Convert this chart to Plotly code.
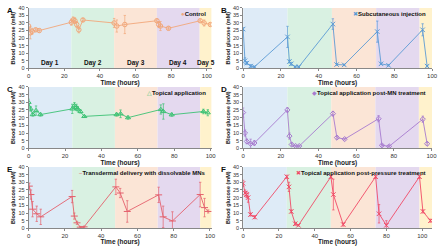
import plotly.graph_objects as go

# ---------------- data ----------------
labels = ["Control", "Subcutaneous injection", "Topical application",
          "Topical application post-MN treatment",
          "Transdermal delivery with dissolvable MNs",
          "Topical application post-pressure treatment"]
panel_letters = ["A", "B", "C", "D", "E", "F"]
day_labels = ["Day 1", "Day 2", "Day 3", "Day 4", "Day 5"]

A_t = [0, 1, 2, 4, 6, 24, 25, 26, 27, 28.2, 30.5, 48, 49.5, 54, 72, 73, 74, 78.5, 96.3, 98.5, 102]
A_y = [28, 23.5, 24.5, 25.5, 25, 30.5, 32, 31.5, 29, 25.5, 32, 30, 28, 29, 31.5, 29, 28, 26.5, 31.5, 30, 29]
A_e = [3, 4, 2, 1, 1, 2, 2, 2, 2, 2, 1, 3, 4, 6, 1, 2, 3, 1, 1, 2, 1]

B_t = [0, 1, 2, 4, 6, 23.5, 24.5, 25.5, 27.5, 29.5, 47.5, 49.5, 53.5, 71, 73, 77, 95, 97.4]
B_y = [26, 5, 3.5, 1.5, 1, 20.8, 4.5, 3, 1, 1, 29.3, 2.5, 2.3, 24.3, 3, 2, 25.5, 1.5]
B_e = [1, 2, 1, 1, 0.5, 7, 1, 1, 0.5, 0.5, 3.5, 0.5, 0.5, 7, 0.5, 0.5, 4, 0.5]

C_t = [0, 1.1, 2.3, 4.1, 6.5, 24, 25.2, 26.3, 27, 28.5, 30.6, 48.3, 50.5, 54.6, 72.6, 74, 78.6, 96, 98.4]
C_y = [30, 25.7, 22, 24.6, 22, 25.7, 27.8, 26.7, 25.7, 24, 20.8, 22, 22.5, 20, 25.3, 24, 21.9, 24, 23.2]
C_e = [2, 1.5, 1, 3, 1, 3, 2, 2, 1.5, 1, 0.5, 1, 2.5, 1, 3, 5, 1, 1.5, 2]

D_t = [0, 1, 2, 4, 6, 23.5, 24.6, 25.8, 27.9, 29.8, 47.7, 49.8, 53.9, 71.9, 73.7, 77.5, 95.4, 97.7]
D_y = [23.3, 10, 4.5, 3, 3.5, 25, 8, 2.5, 1.5, 1.5, 22.6, 7, 6, 19.3, 2, 1.3, 19, 3]
D_e = [3, 2, 1.5, 3, 1.5, 1.5, 2, 1, 0.5, 0.5, 1.5, 1, 0.5, 2, 0.5, 0.5, 2, 1]

E_t = [0.4, 1.3, 2.2, 4.5, 6.7, 24, 25.2, 26.7, 28.5, 30.6, 48.1, 50.5, 54.4, 71.7, 74.2, 79.3, 94.6, 97, 99]
E_y = [27.5, 22, 12.5, 9.5, 7.5, 20.7, 8, 3.6, 0.8, 1, 27, 23, 11, 21.8, 7.5, 4.8, 22, 13.5, 11]
E_e = [2, 3, 5, 5, 5, 4, 2, 1, 0.5, 0.5, 5, 3, 7, 5, 7, 6, 8, 6, 1]

F_t = [0, 1.1, 1.9, 2.8, 4.1, 6.5, 24.4, 25.6, 26.9, 29.1, 30.9, 49, 50.4, 55.9, 74, 75.9, 80, 98.5, 100.4, 104.6]
F_y = [29.3, 23, 22, 20, 9, 7.3, 33.6, 27, 11, 3, 2, 33.6, 22, 2.5, 33.6, 9.5, 2, 33.6, 11, 5]
F_e = [2, 2, 2, 3, 1, 1, 1, 3, 1, 1, 0.5, 1, 10, 1, 1, 6, 3, 1, 1, 1]

# day boundaries (hours) as drawn in each panel, last value = axis end
day_edges = [
    [0, 24, 48, 72, 96, 102.7],
    [0, 23.5, 47, 70.4, 93.4, 100],
    [0, 24, 47.4, 70.8, 94.2, 100.5],
    [0, 23.5, 46.8, 70.2, 93.3, 100.3],
    [0, 24, 47.7, 71.2, 94.6, 100.9],
    [0, 24.4, 49, 74, 98.5, 105.5],
]

series = [(A_t, A_y, A_e), (B_t, B_y, B_e), (C_t, C_y, C_e),
          (D_t, D_y, D_e), (E_t, E_y, E_e), (F_t, F_y, F_e)]

# ---------------- style ----------------
colors = ["#f2a77a", "#5b9bd5", "#3cc274", "#a77bcf", "#e4606c", "#f04a66"]
symbols = ["circle-open", "x-thin-open", "triangle-up-open", "diamond-open",
           "line-ew-open", "x-thin-open"]
marker_sizes = [4.5, 4.5, 4.5, 4, 5, 4.5]
legend_glyph = ["\u25cf", "\u2716", "\u25b3", "\u25c6", "\u2212", "\u2716"]
band_colors = ["#deebf7", "#d9f1e2", "#fbe5d6", "#e4d9ef", "#fff2cc"]

W, H = 440, 246
FONT = "Liberation Sans, Arial, sans-serif"
x_dom = [[27 / W, 213 / W], [245 / W, 437 / W]]
rows = [(5, 67), (86, 149), (168, 231)]

fig = go.Figure()
annotations = []
shapes = []

for i in range(6):
    r, c = divmod(i, 2)
    ax = "" if i == 0 else str(i + 1)
    xref, yref = "x" + ax, "y" + ax
    top, bot = rows[r]
    xd = x_dom[c]
    yd = [1 - bot / H, 1 - top / H]
    edges = day_edges[i]

    for k in range(5):
        shapes.append(dict(type="rect", xref=xref, yref=yref,
                           x0=edges[k], x1=edges[k + 1], y0=0, y1=40,
                           fillcolor=band_colors[k], line_width=0, layer="below"))

    t, y, e = series[i]
    fig.add_trace(go.Scatter(
        x=t, y=y, mode="lines+markers", name=labels[i], showlegend=False,
        xaxis=xref, yaxis=yref,
        line=dict(color=colors[i], width=0.9),
        marker=dict(symbol=symbols[i], size=marker_sizes[i], color=colors[i],
                    line=dict(color=colors[i], width=1)),
        error_y=dict(type="data", array=e, visible=True, color=colors[i],
                     thickness=0.7, width=1.2),
    ))

    fig.layout["xaxis" + ax] = dict(
        domain=xd, anchor=yref, range=[0, edges[-1]],
        tickvals=[0, 20, 40, 60, 80, 100], ticks="outside", ticklen=2,
        tickcolor="#888", tickfont=dict(size=6, color="#333", family=FONT),
        showgrid=False, zeroline=False, showline=True, linecolor="#888", linewidth=0.8,
        title=dict(text="<b>Time (hours)</b>", font=dict(size=6.5, color="#222", family=FONT),
                   standoff=0),
        fixedrange=True,
    )
    fig.layout["yaxis" + ax] = dict(
        domain=yd, anchor=xref, range=[0, 40],
        tickvals=list(range(0, 45, 5)), ticks="outside", ticklen=2,
        tickcolor="#888", tickfont=dict(size=5.5, color="#333", family=FONT),
        showgrid=False, zeroline=False, showline=True, linecolor="#888", linewidth=0.8,
        title=dict(text="<b>Blood glucose (mM)</b>", font=dict(size=5.5, color="#222", family=FONT),
                   standoff=2),
        fixedrange=True,
    )

    # panel letter
    annotations.append(dict(text="<b>" + panel_letters[i] + "</b>", xref="paper", yref="paper",
                            x=(3 if c == 0 else 221) / W, y=1 - (top - 4) / H,
                            xanchor="left", yanchor="top", showarrow=False,
                            font=dict(size=8, color="#111", family=FONT)))
    # legend-like label
    annotations.append(dict(
        text="<span style='color:%s'>%s</span><b>%s</b>" % (colors[i], legend_glyph[i], labels[i]),
        xref="paper", yref="paper", x=xd[1] - 4 / W, y=1 - (top + 1) / H,
        xanchor="right", yanchor="top", showarrow=False,
        font=dict(size=6, color="#111", family=FONT)))

# day labels in panel A
for k in range(5):
    e = day_edges[0]
    xc = (e[k] + e[k + 1]) / 2 if k < 4 else (e[k] + e[k + 1]) / 2 + 0.3
    annotations.append(dict(text="<b>" + day_labels[k] + "</b>", xref="x", yref="y",
                            x=xc, y=3.6, showarrow=False,
                            font=dict(size=6.5, color="#111", family=FONT)))

fig.update_layout(
    width=W, height=H, margin=dict(l=0, r=0, t=0, b=0),
    paper_bgcolor="white", plot_bgcolor="white",
    shapes=shapes, annotations=annotations, showlegend=False,
    font=dict(family=FONT),
)

fig.write_html("out.html", config={"displayModeBar": False},
               post_script="document.body.style.margin='0';")
